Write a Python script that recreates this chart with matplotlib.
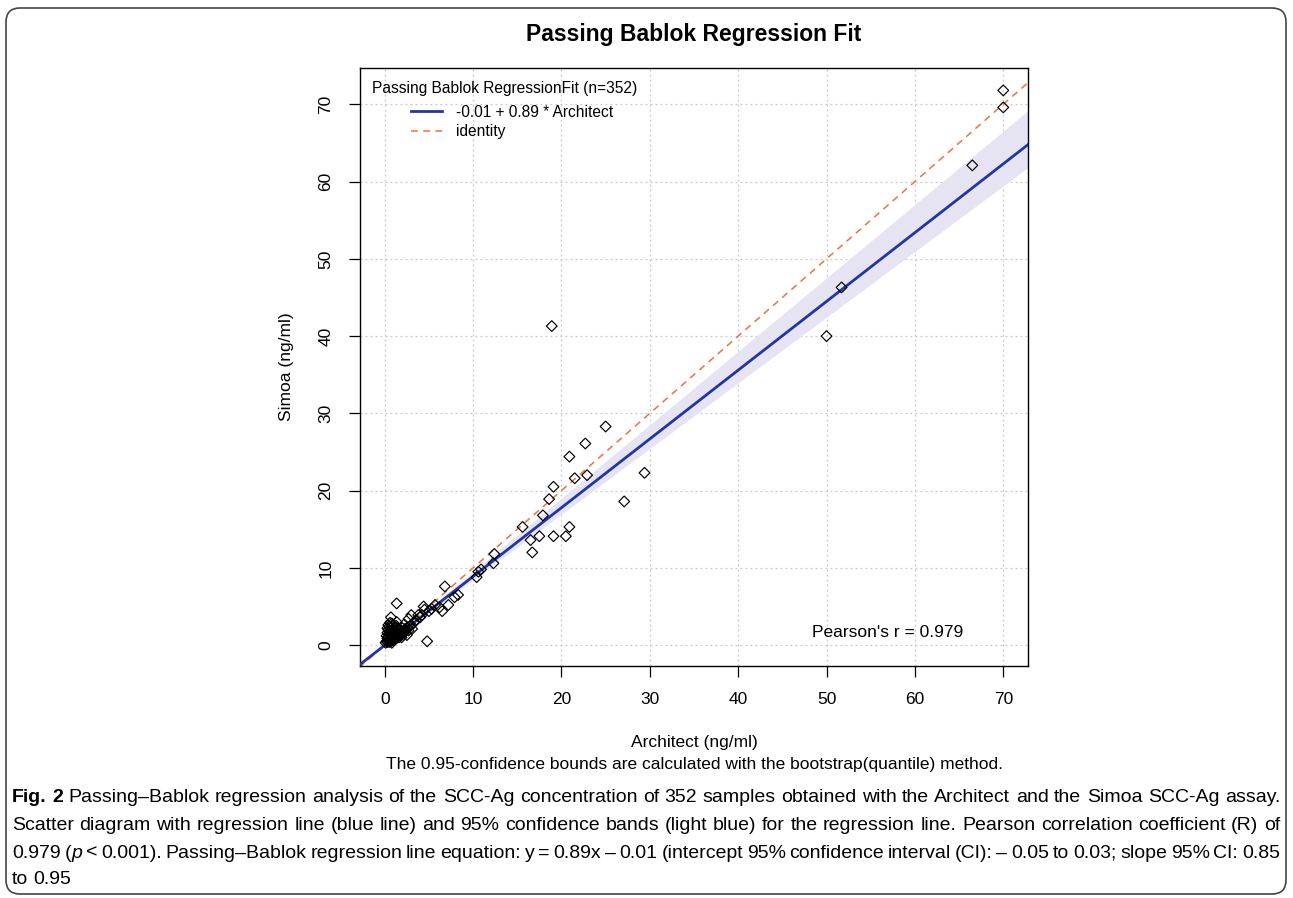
import numpy as np
import matplotlib.pyplot as plt
from matplotlib import font_manager
from matplotlib.patches import FancyBboxPatch
from matplotlib.transforms import IdentityTransform

plt.rcParams['font.family'] = ['Liberation Sans', 'DejaVu Sans']

# isolated points (Architect, Simoa)
arch_hi = [70.0, 70.0, 66.5, 51.7, 50.0, 18.9]
simoa_hi = [71.8, 69.6, 62.1, 46.3, 40.0, 41.3]

arch_mid = [25.0, 22.7, 20.9, 21.5, 22.9, 29.4, 19.1, 18.6, 27.1, 17.9, 20.9, 19.1,
            20.5, 15.6, 16.5, 17.5, 16.7, 12.4, 12.3, 10.9, 10.6, 10.4]
simoa_mid = [28.3, 26.1, 24.4, 21.6, 22.0, 22.3, 20.5, 18.9, 18.6, 16.8, 15.3, 14.1,
             14.1, 15.3, 13.6, 14.1, 12.0, 11.8, 10.6, 9.8, 9.5, 8.8]

arch_low = [3.5, 3.8, 3.0, 2.7, 4.0, 4.4, 4.5, 5.0, 5.7, 6.2, 6.5, 7.2, 7.9, 8.3,
            6.8, 4.8, 1.35, 0.7, 0.8, 1.35, 3.3, 4.2, 5.3, 2.9]
simoa_low = [3.2, 3.9, 3.9, 3.4, 3.6, 5.0, 4.6, 4.4, 5.2, 4.9, 4.4, 5.2, 6.2, 6.5,
             7.6, 0.5, 5.4, 3.6, 2.8, 3.0, 2.9, 3.9, 4.7, 2.5]

arch_cl = [0.1, 0.2, 0.2, 0.3, 0.3, 0.3, 0.4, 0.4, 0.4, 0.5, 0.5, 0.5, 0.6, 0.6,
           0.6, 0.7, 0.7, 0.7, 0.8, 0.8, 0.8, 0.9, 0.9, 0.9, 1.0, 1.0, 1.0, 1.1,
           1.1, 1.2, 1.2, 1.2, 1.3, 1.3, 1.4, 1.4, 1.5, 1.5, 1.6, 1.6, 1.7, 1.7,
           1.8, 1.8, 1.9, 2.0, 2.0, 2.1, 2.2, 2.3, 2.4, 2.5, 2.6, 2.8, 3.0, 3.1,
           0.5, 0.7, 0.9, 1.1, 0.4, 0.6, 1.3, 1.5, 1.0, 0.3, 2.2, 2.7, 1.9, 0.8]
simoa_cl = [0.3, 0.5, 1.2, 0.4, 0.9, 1.6, 0.6, 1.1, 2.0, 0.4, 0.8, 1.4, 0.6, 1.0,
            1.8, 0.5, 0.9, 1.3, 0.7, 1.1, 1.6, 0.6, 1.0, 2.1, 0.8, 1.2, 1.5, 0.9,
            1.3, 0.8, 1.1, 1.7, 1.0, 1.4, 1.1, 1.9, 1.2, 1.5, 1.0, 1.4, 1.3, 2.0,
            1.5, 1.2, 1.7, 1.4, 2.2, 1.8, 1.6, 2.1, 1.9, 1.3, 2.3, 2.4, 2.6, 2.1,
            2.4, 2.2, 2.6, 2.3, 2.6, 2.9, 2.5, 2.2, 1.9, 2.2, 2.7, 1.9, 1.0, 0.3]

intercept, slope = -0.01, 0.89
int_ci = [-0.05, 0.03]
slope_ci = [0.85, 0.95]

W, H = 1293, 898
fig = plt.figure(figsize=(W / 100, H / 100), dpi=100)
ax = fig.add_axes([360 / W, 1 - 666 / H, 668 / W, 598 / H])

xs = np.array([-5, 80])
ax.fill_between(xs, int_ci[0] + slope_ci[0] * xs, int_ci[1] + slope_ci[1] * xs,
                color='#e6e3f2', lw=0, zorder=1)
ident, = ax.plot(xs, xs, color='#f07040', lw=1.1, ls=(0, (4.5, 3.5)), zorder=2)
fit, = ax.plot(xs, intercept + slope * xs, color='#2236a0', lw=2, zorder=3)

all_x = arch_hi + arch_mid + arch_low + arch_cl
all_y = simoa_hi + simoa_mid + simoa_low + simoa_cl
ax.scatter(all_x, all_y, marker='D', s=30, facecolors='none', edgecolors='black',
           linewidths=0.85, zorder=4)

ax.set_xlim(-2.8, 72.8)
ax.set_ylim(-2.7, 74.7)
ticks = np.arange(0, 71, 10)
ax.set_xticks(ticks)
ax.set_yticks(ticks)
ax.grid(True, color='#c8c8c8', ls=(0, (1.5, 2.5)), lw=0.9)
ax.set_axisbelow(True)
ax.tick_params(direction='out', length=8, width=0.9, labelsize=12.5, pad=11)
plt.setp(ax.get_yticklabels(), rotation=90, va='center')
for s in ax.spines.values():
    s.set_linewidth(1.0)

ax.set_xlabel('Architect (ng/ml)', fontsize=12.5, labelpad=20)
ax.set_ylabel('Simoa (ng/ml)', fontsize=12.5, labelpad=18)
fig.text(694 / W, 1 - 35 / H, 'Passing Bablok Regression Fit', ha='center',
         va='center', fontsize=16.5, fontweight='bold')
fig.text(694 / W, 1 - 764 / H,
         'The 0.95-confidence bounds are calculated with the bootstrap(quantile) method.',
         ha='center', va='center', fontsize=12.5)

ax.text(0.018, 0.966, 'Passing Bablok RegressionFit (n=352)', transform=ax.transAxes,
        ha='left', va='center', fontsize=11.2)
ax.legend(handles=[fit, ident], labels=['-0.01 + 0.89 * Architect', 'identity'],
          loc='upper left', bbox_to_anchor=(0.055, 0.962), frameon=False,
          fontsize=11.2, handlelength=2.0, handletextpad=0.9, labelspacing=0.3)
ax.text(56.9, 1.6, "Pearson's r = 0.979", ha='center', va='center', fontsize=12.5)

# rounded caption frame
fig.add_artist(FancyBboxPatch((6, 4), W - 13, H - 12, boxstyle='round,pad=0,rounding_size=14',
                              transform=IdentityTransform(), fill=False, ec='#444444', lw=1.2))

# caption font: a narrow face if there is one
try:
    font_manager.findfont('Liberation Sans Narrow', fallback_to_default=False)
    cap_family, cap_size = ['Liberation Sans Narrow', 'DejaVu Sans'], 15.5
except ValueError:
    cap_family, cap_size = ['Liberation Sans', 'DejaVu Sans'], 14

caption = [
    [('Fig. 2', 'bold'), (' Passing–Bablok regression analysis of the SCC-Ag concentration of 352 samples obtained with the Architect and the Simoa SCC-Ag assay.', 'normal')],
    [('Scatter diagram with regression line (blue line) and 95% confidence bands (light blue) for the regression line. Pearson correlation coefficient (R) of', 'normal')],
    [('0.979 (', 'normal'), ('p', 'italic'), (' < 0.001). Passing–Bablok regression line equation: y = 0.89x – 0.01 (intercept 95% confidence interval (CI): – 0.05 to 0.03; slope 95% CI: 0.85', 'normal')],
    [('to 0.95', 'normal')],
]
cap_y = [798, 826, 853, 880]
renderer = fig.canvas.get_renderer()
x0, x1 = 12, 1280
for i, (line, yy) in enumerate(zip(caption, cap_y)):
    words = []
    prev_end_space = True
    for txt, style in line:
        parts = txt.split()
        for k, p in enumerate(parts):
            glued = (k == 0 and not txt[0].isspace() and not prev_end_space)
            words.append((p, style, glued))
        prev_end_space = txt[-1].isspace()
    arts = []
    for p, style, glued in words:
        t = fig.text(0, 1 - yy / H, p, fontsize=cap_size, va='center', family=cap_family,
                     fontweight='bold' if style == 'bold' else 'normal',
                     fontstyle='italic' if style == 'italic' else 'normal')
        arts.append(t)
    widths = [a.get_window_extent(renderer).width for a in arts]
    n_gaps = sum(1 for w in words[1:] if not w[2])
    if i < len(caption) - 1 and n_gaps:
        gap = max((x1 - x0 - sum(widths)) / n_gaps, 3)
    else:
        gap = 4.5
    x = x0
    for j, (a, w) in enumerate(zip(arts, widths)):
        if j > 0 and not words[j][2]:
            x += gap
        a.set_x(x / W)
        x += w

fig.savefig('out.png', dpi=100)
